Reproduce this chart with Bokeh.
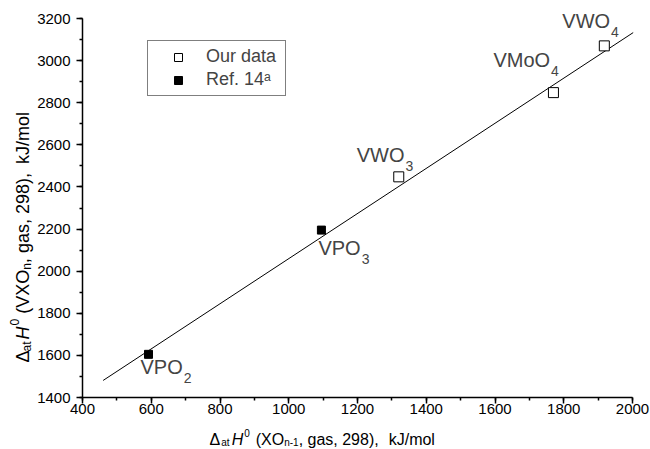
import math
from bokeh.plotting import figure
from bokeh.layouts import gridplot
from bokeh.models import Label, Legend, LegendItem, Range1d, SingleIntervalTicker
from bokeh.embed import file_html
from bokeh.resources import INLINE

# ---- data ----
our_names = ["VWO3", "VMoO4", "VWO4"]
our_x = [1320, 1770, 1918]
our_y = [2448, 2848, 3070]

ref_names = ["VPO2", "VPO3"]
ref_x = [592, 1095]
ref_y = [1605, 2195]

fit_x = [460, 2002]
fit_y = [1481, 3133]

x_lo, x_hi = 400, 2000
y_lo, y_hi = 1400, 3200

FONT = "Liberation Sans"

# page geometry (pixels)
PAGE_W, PAGE_H = 650, 449
LEFT_W = 34          # strip holding the y-axis title
BOTTOM_H = 24        # strip holding the x-axis title
FL, FR, FT, FB = 82, 632, 18, 397   # page pixels of x 400/2000 and y 3200/1400

MAIN_W = PAGE_W - LEFT_W
MAIN_H = PAGE_H - BOTTOM_H
B_LEFT = FL - LEFT_W
B_BOTTOM = MAIN_H - FB

sx = (FR - FL) / (x_hi - x_lo)
sy = (FB - FT) / (y_hi - y_lo)


def data_x(px):
    return x_lo + (px - FL) / sx


def data_y(py):
    return y_lo + (FB - py) / sy


xr = Range1d(x_lo, data_x(PAGE_W))
yr = Range1d(y_lo, data_y(0))


def base_fig(w, h, x_range, y_range, bl, bb, axes=True):
    kw = {} if axes else dict(x_axis_location=None, y_axis_location=None)
    f = figure(width=w, height=h, output_backend="svg", toolbar_location=None,
               x_range=x_range, y_range=y_range,
               min_border_left=bl, min_border_right=0,
               min_border_top=0, min_border_bottom=bb, **kw)
    f.outline_line_color = None
    f.grid.visible = False
    f.background_fill_color = "white"
    f.border_fill_color = "white"
    return f


p = base_fig(MAIN_W, MAIN_H, xr, yr, B_LEFT, B_BOTTOM)
p.xaxis.bounds = (x_lo, x_hi)
p.yaxis.bounds = (y_lo, y_hi)
for ax in (p.xaxis, p.yaxis):
    ax.ticker = SingleIntervalTicker(interval=200, num_minor_ticks=2)
    ax.axis_line_color = "black"
    ax.axis_line_width = 1.5
    ax.major_tick_line_color = "black"
    ax.major_tick_line_width = 1.5
    ax.minor_tick_line_color = "black"
    ax.minor_tick_line_width = 1.5
    ax.major_tick_in = 0
    ax.major_tick_out = 6
    ax.minor_tick_in = 0
    ax.minor_tick_out = 3
    ax.major_label_text_font = FONT
    ax.major_label_text_font_size = "15px"
    ax.major_label_text_color = "black"
p.xaxis.major_label_standoff = 0
p.yaxis.major_label_standoff = 6

# fit line
p.line(fit_x, fit_y, line_color="black", line_width=1)

r_our = p.scatter(our_x, our_y, marker="square", size=10, fill_color="white",
                  line_color="black", line_width=1)
r_ref = p.scatter(ref_x, ref_y, marker="square", size=8, fill_color="black",
                  line_color="black", line_width=1)

legend = Legend(items=[LegendItem(label="Our data", renderers=[r_our]),
                       LegendItem(label="Ref. 14\u1d43", renderers=[r_ref])],
                location=(147 - FL, FB - 96), margin=0, padding=5, spacing=2,
                glyph_width=50, glyph_height=20, label_standoff=3, label_width=74,
                label_text_font=FONT, label_text_font_size="18px",
                border_line_color="black", border_line_width=1.2,
                background_fill_color="white", background_fill_alpha=1)
p.add_layout(legend)

# Arial-like widths (per em)
W = {" ": .278, "(": .333, ")": .333, ",": .278, "/": .278, "-": .333, ".": .278,
     "X": .667, "O": .778, "V": .667, "P": .667, "W": .944, "M": .833, "H": .722,
     "J": .5, "k": .5, "s": .5, "l": .222, "t": .278, "f": .278, "m": .833,
     "R": .722, "Δ": .612}


def width(s, size):
    return sum(W.get(c, .556) for c in s) * size


# point labels: (dx, dy) screen-pixel offsets of text left/middle from the point
lab_font = 20
sub_font = 14
lab_off = {"VPO2": (-8, -13), "VPO3": (-3, -18), "VWO3": (-42, 22),
           "VMoO4": (-60, 33), "VWO4": (-42, 25)}
for names, xs, ys in ((our_names, our_x, our_y), (ref_names, ref_x, ref_y)):
    for n, xv, yv in zip(names, xs, ys):
        main, sub = n[:-1], n[-1]
        dx, dy = lab_off[n]
        p.add_layout(Label(x=xv, y=yv, x_offset=dx, y_offset=dy, text=main,
                           text_font=FONT, text_font_size=f"{lab_font}px",
                           text_baseline="middle", text_align="left"))
        p.add_layout(Label(x=xv, y=yv, x_offset=dx + width(main, lab_font) + 1,
                           y_offset=dy - 11, text=sub,
                           text_font=FONT, text_font_size=f"{sub_font}px",
                           text_baseline="middle", text_align="left"))


def label_kw(text, size, italic):
    return dict(text=text, text_font=FONT, text_font_size=f"{size}px",
                text_color="black", text_baseline="alphabetic", text_align="left",
                text_font_style="italic" if italic else "normal")


# x-axis title strip, sharing the main x range
fx = base_fig(MAIN_W, BOTTOM_H, xr, Range1d(0, BOTTOM_H), B_LEFT, 0, axes=False)
x_title = [("Δ", 16, 0, False, 2), ("at", 10, -3, False, 2), ("H", 16, 0, True, 1),
           ("0", 10, 7, False, 6), ("(XO", 16, 0, False, 0), ("n-1", 10, -3, False, 0),
           (", gas, 298),", 16, 0, False, 10), ("kJ/mol", 16, 0, False, 0)]
pos = 209
base = 439
for text, size, shift, italic, gap in x_title:
    fx.add_layout(Label(x=data_x(pos), y=PAGE_H - (base - shift), **label_kw(text, size, italic)))
    pos += width(text, size) + gap

# y-axis title strip, sharing the main y range (text reads bottom to top)
fy = base_fig(LEFT_W, MAIN_H, Range1d(0, LEFT_W), yr, 0, B_BOTTOM, axes=False)
y_title = [("Δ", 18, 0, False, 0), ("at", 12, -4, False, 2), ("H", 18, 0, True, 1),
           ("0", 12, 8, False, 5), ("(VXO", 18, 0, False, 0), ("n", 12, -4, False, 0),
           (", gas, 298),", 18, 0, False, 9), ("kJ/mol", 18, 0, False, 0)]
pos = 362
base_x = 22
for text, size, shift, italic, gap in y_title:
    fy.add_layout(Label(x=base_x - shift, y=data_y(pos), angle=math.pi / 2,
                        **label_kw(text, size, italic)))
    pos -= width(text, size) + gap

grid = gridplot([[fy, p], [None, fx]], toolbar_location=None)
open("out.html", "w").write(file_html(grid, INLINE))
